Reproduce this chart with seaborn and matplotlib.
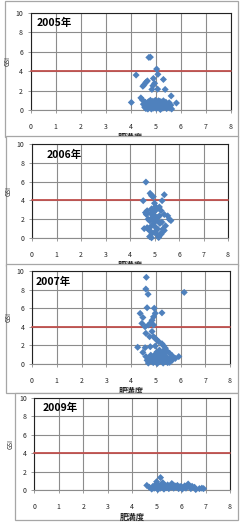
import matplotlib
matplotlib.use("Agg")
import matplotlib.pyplot as plt
from matplotlib.patches import Rectangle
import seaborn as sns
import pandas as pd

# ---------------- data ----------------
years = ["2005年", "2006年", "2007年", "2009年"]

x2005 = [4.72, 4.78, 5.03, 5.08, 4.21, 5.30, 4.90, 4.66, 4.60, 4.53, 4.48, 4.95, 4.88, 4.84, 5.07, 5.37, 5.61, 4.02, 5.82, 4.40, 4.46,
         4.50, 4.55, 4.60, 4.65, 4.70, 4.75, 4.78, 4.80, 4.82, 4.85, 4.88, 4.90, 4.92, 4.95, 4.98, 5.00, 5.02, 5.05, 5.08, 5.10,
         5.12, 5.15, 5.18, 5.20, 5.22, 5.25, 5.28, 5.30, 5.33, 5.36, 5.40, 5.43, 5.46, 5.50, 5.53, 5.56, 5.60, 5.63, 4.58, 4.68,
         4.73, 5.00, 5.15, 5.35]
y2005 = [5.42, 5.45, 4.22, 3.68, 3.60, 3.15, 3.25, 3.00, 2.85, 2.60, 2.45, 2.75, 2.50, 2.12, 2.15, 2.12, 1.45, 0.78, 0.72, 1.25, 1.05,
         0.60, 0.30, 0.15, 0.50, 0.85, 0.30, 1.00, 0.60, 0.10, 0.40, 0.90, 0.20, 0.65, 0.35, 1.00, 0.50, 0.15, 0.80, 0.40, 0.95,
         0.25, 0.60, 0.05, 0.85, 0.35, 0.70, 0.20, 0.95, 0.50, 0.30, 0.80, 0.15, 0.55, 0.35, 0.75, 0.20, 0.50, 0.10, 0.80, 0.10,
         0.60, 0.75, 0.90, 0.65]

x2006 = [4.65, 4.82, 4.88, 4.95, 5.40, 4.54, 5.31, 5.00, 5.04, 4.70, 4.63, 4.67, 4.88, 4.95, 5.00, 5.20, 5.27, 5.40, 5.54, 5.60,
         5.67, 5.20, 5.14, 4.74, 4.80, 5.10, 5.30, 4.95, 4.88, 4.70, 4.74, 4.80, 5.13, 5.34, 5.40, 5.00, 5.10, 5.20, 5.27, 4.80,
         4.88, 5.17, 5.05, 4.98, 5.07, 4.92, 5.45, 5.22, 4.85, 5.02, 4.58, 5.30, 4.90]
y2006 = [5.95, 4.75, 4.50, 4.40, 4.60, 3.97, 3.97, 3.70, 3.35, 2.90, 2.70, 2.50, 3.10, 2.75, 2.40, 3.30, 2.90, 2.50, 2.35, 2.00,
         1.85, 2.35, 2.20, 2.00, 1.85, 1.85, 1.70, 1.50, 1.30, 1.10, 0.95, 0.80, 0.95, 0.95, 0.80, 0.60, 0.40, 0.25, 0.40, 0.15,
         0.02, 0.05, 2.10, 1.75, 3.00, 2.20, 1.30, 1.55, 2.60, 1.20, 1.00, 0.60, 0.50]

x2007 = [4.62, 4.60, 4.69, 6.15, 4.65, 4.94, 5.25, 4.37, 4.48, 4.98, 4.91, 4.85, 4.78, 4.71, 4.44, 4.57, 4.91, 4.60, 4.85, 4.91,
         4.98, 5.05, 4.75, 5.12, 5.25, 5.32, 5.39, 4.27, 4.57, 4.78, 4.98, 4.48, 5.45, 5.56, 5.66, 5.93, 5.79, 5.66, 5.56,
         4.60, 4.65, 4.70, 4.75, 4.80, 4.82, 4.86, 4.90, 4.93, 4.96, 5.00, 5.03, 5.06, 5.09, 5.12, 5.15, 5.18, 5.21, 5.24, 5.27,
         5.30, 5.33, 5.36, 5.40, 5.44, 5.48, 5.52, 5.60, 5.05, 5.15, 5.25, 5.35]
y2007 = [9.32, 8.06, 7.50, 7.70, 6.05, 6.00, 5.50, 5.44, 5.00, 5.45, 5.07, 4.70, 4.37, 4.20, 4.37, 4.00, 4.20, 3.30, 3.50, 2.94,
         2.75, 2.57, 2.94, 2.40, 2.18, 1.95, 1.70, 1.80, 1.75, 1.86, 1.93, 1.25, 1.40, 1.15, 0.90, 0.80, 0.60, 0.40, 0.18,
         0.80, 0.40, 0.10, 0.60, 0.95, 0.30, 0.70, 0.15, 0.50, 1.00, 0.30, 0.75, 0.05, 0.50, 0.90, 0.25, 0.65, 1.10, 0.40, 0.80,
         0.10, 0.55, 0.95, 0.30, 0.70, 0.15, 0.50, 0.70, 1.30, 1.50, 1.25, 1.45]

x2009 = [5.16, 5.00, 5.25, 4.60, 6.29, 4.70, 4.80, 4.85, 4.90, 4.95, 5.00, 5.05, 5.10, 5.15, 5.20, 5.25, 5.30, 5.35, 5.40, 5.45,
         5.50, 5.55, 5.60, 5.65, 5.70, 5.75, 5.80, 5.85, 5.90, 5.95, 6.00, 6.05, 6.10, 6.15, 6.20, 6.35, 6.40, 6.45, 6.55, 6.60,
         6.75, 6.85, 6.92, 5.62, 5.02]
y2009 = [1.35, 0.90, 0.80, 0.50, 0.65, 0.30, 0.10, 0.40, 0.20, 0.55, 0.25, 0.05, 0.45, 0.20, 0.60, 0.30, 0.10, 0.45, 0.25, 0.55,
         0.15, 0.40, 0.30, 0.60, 0.20, 0.45, 0.30, 0.50, 0.15, 0.35, 0.40, 0.10, 0.30, 0.45, 0.20, 0.35, 0.15, 0.40, 0.30, 0.05,
         0.15, 0.20, 0.15, 0.70, 0.60]

xs = [x2005, x2006, x2007, x2009]
ys = [y2005, y2006, y2007, y2009]

threshold = 4
xticks = list(range(0, 9))
yticks = list(range(0, 11, 2))

# ---------------- layout (pixels) ----------------
W, H = 245, 526
axes_px = [  # left, right, top, bottom
    (30.7, 231, 13, 110),
    (32, 228, 144, 238),
    (32, 230, 271, 364),
    (34.3, 230, 398, 490),
]
boxes_px = [  # left, right, top, bottom
    (5, 238, 1, 137),
    (6, 238, 136, 266),
    (6, 238, 264, 393),
    (15, 238, 393, 520),
]
title_pos = [(0.03, 0.90), (0.075, 0.88), (0.02, 0.885), (0.043, 0.89)]

sns.set_theme(style="white")
plt.rcParams['font.family'] = ['Noto Sans CJK JP', 'DejaVu Sans']

fig = plt.figure(figsize=(W / 100, H / 100), dpi=100)
fig.patch.set_facecolor("white")

blue = "#4F81BD"
red = "#C0504D"
grid_c = "#8C8C8C"

for i in range(4):
    bl, br, bt, bb = boxes_px[i]
    rect = Rectangle((bl / W, 1 - bb / H), (br - bl) / W, (bb - bt) / H,
                     transform=fig.transFigure, facecolor="white",
                     edgecolor="#A6A6A6", linewidth=0.9, zorder=2 * i)
    fig.patches.append(rect)

    l, r, t, b = axes_px[i]
    ax = fig.add_axes([l / W, 1 - b / H, (r - l) / W, (b - t) / H])
    ax.set_zorder(2 * i + 1)
    ax.patch.set_alpha(0)

    df = pd.DataFrame({"x": xs[i], "y": ys[i]})
    ax.axhline(threshold, color=red, lw=1.3, zorder=3, clip_on=False)
    sns.scatterplot(data=df, x="x", y="y", marker="D", s=13, color=blue,
                    edgecolor="none", linewidth=0, ax=ax, zorder=4, clip_on=False)

    ax.set_xlim(0, 8)
    ax.set_ylim(0, 10)
    ax.set_xticks(xticks)
    ax.set_yticks(yticks)
    ax.set_xticklabels([str(v) for v in xticks], fontsize=5, color="#222222")
    ax.set_yticklabels([str(v) for v in yticks], fontsize=5, color="#222222")
    ax.grid(True, color=grid_c, lw=0.8)
    ax.set_axisbelow(True)
    ax.tick_params(axis="both", length=2, width=0.6, color=grid_c, direction="out")
    ax.tick_params(axis="x", pad=7.5)
    ax.tick_params(axis="y", pad=3.5)
    ax.tick_params(bottom=True, left=True)
    for s in ["top", "right", "left"]:
        ax.spines[s].set_color("#222222")
        ax.spines[s].set_linewidth(0.8)
    ax.spines["bottom"].set_color(grid_c)
    ax.spines["bottom"].set_linewidth(0.8)

    ax.set_xlabel("肥満度", fontsize=6, fontweight="bold", labelpad=1)
    ax.set_ylabel("GSI", fontsize=4.5, labelpad=3)
    ax.text(title_pos[i][0], title_pos[i][1], years[i], transform=ax.transAxes,
            fontsize=7.5, fontweight="bold", ha="left", va="center", color="black",
            family=['Noto Sans CJK JP', 'DejaVu Sans'])

fig.savefig("out.png", dpi=100, facecolor="white")
